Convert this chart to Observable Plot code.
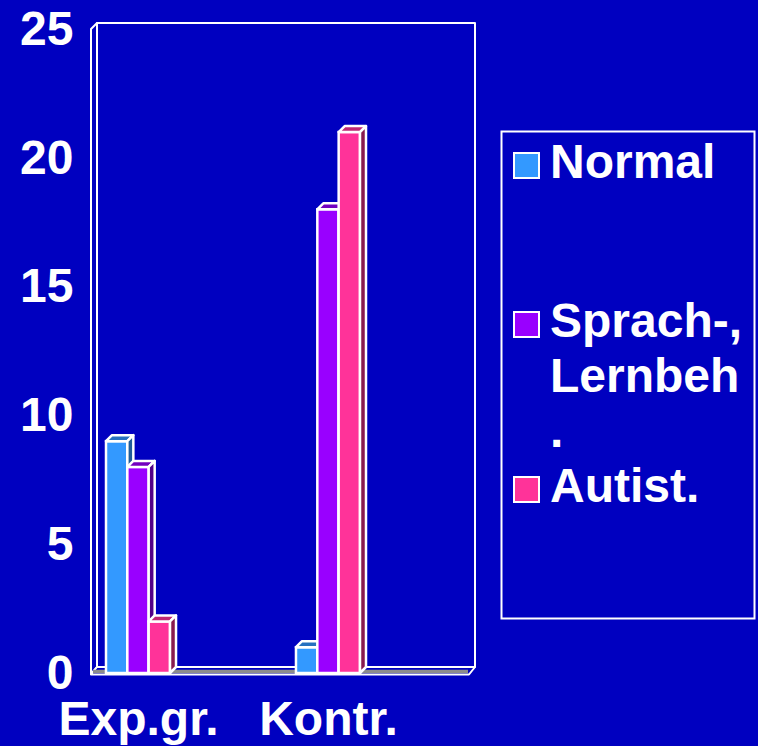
<!DOCTYPE html>
<html><head><meta charset="utf-8">
<script src="https://cdn.jsdelivr.net/npm/d3@7"></script>
<script src="https://cdn.jsdelivr.net/npm/@observablehq/plot@0.6"></script>
<style>
html,body{margin:0;padding:0;background:#0000C0;}
#chart{position:relative;width:758px;height:746px;overflow:hidden;}
#chart svg.legend{position:absolute;left:0;top:0;}
</style></head><body><div id="chart"></div>
<script>
// ---- data ----
const groups = ["Exp.gr.", "Kontr."];
const series = ["Normal", "Sprach-, Lernbeh.", "Autist."];
const legendLines = [["Normal"], ["Sprach-,", "Lernbeh", "."], ["Autist."]];
const normal = [9, 1];
const sprach = [8, 18];
const autist = [2, 21];
const yTicks = [0, 5, 10, 15, 20, 25];

// ---- styles ----
const colors = ["#3399FF", "#9900FF", "#FF3399"];
const topColors = ["#2670bf", "#7300bf", "#bf2673"];
const sideColors = ["#1f5c99", "#520088", "#881a4f"];
const bg = "#0000C0";
const font = "'Liberation Sans', Arial, Helvetica, sans-serif";
const W = 758, H = 746;
const DX = 6, DY = -6;           // 3D depth offset
const xRange = [106, 360];
const padInner = 0.663;
const bw = (xRange[1] - xRange[0]) / (groups.length - padInner) * (1 - padInner);
const sub = bw / series.length;
const SW = 2.5;

const values = [normal, sprach, autist];
const data = series.flatMap((s, si) => groups.map((g, gi) => ({group: g, series: s, si, value: values[si][gi]})));

function poly(g, pts, fill, stroke, sw) {
  g.append("polygon").attr("points", pts.map(p => p.join(",")).join(" "))
    .attr("fill", fill).attr("stroke", stroke).attr("stroke-width", sw).attr("stroke-linejoin", "round");
}

// walls and floor
function walls(index, scales, vals, dim) {
  const x0 = dim.marginLeft, x1 = dim.width - dim.marginRight;
  const y0 = dim.marginTop, y1 = dim.height - dim.marginBottom;
  const g = d3.create("svg:g");
  poly(g, [[x0 + DX, y0 + DY], [x1 + DX, y0 + DY], [x1 + DX, y1 + DY], [x0 + DX, y1 + DY]], bg, "white", 2);
  poly(g, [[x0, y0], [x0 + DX, y0 + DY], [x0 + DX, y1 + DY], [x0, y1 + 1]], bg, "white", 2);
  poly(g, [[x0, y1 + 1.5], [x0 + DX, y1 + DY], [x1 + DX, y1 + DY], [x1, y1 + 1.5]], bg, "white", 2);
  g.append("line").attr("x1", x0 + 2).attr("x2", x1 - 1).attr("y1", y1 - 1.5).attr("y2", y1 - 1.5)
    .attr("stroke", "#8c8c8c").attr("stroke-width", 3.5);
  return g.node();
}

function faces(si) {
  return (index, scales) => {
    const g = d3.create("svg:g");
    for (const d of data.filter(d => d.si === si)) {
      const xa = scales.x(d.group) + si * sub, xb = xa + sub;
      const yt = scales.y(d.value), yb = scales.y(0);
      poly(g, [[xa, yt], [xa + DX, yt + DY], [xb + DX, yt + DY], [xb, yt]], topColors[si], "white", SW);
      poly(g, [[xb, yt], [xb + DX, yt + DY], [xb + DX, yb + DY], [xb, yb]], sideColors[si], "white", SW);
    }
    return g.node();
  };
}

const barMarks = series.flatMap((s, si) => [
  Plot.barY(data.filter(d => d.si === si), {
    x: "group", y: "value", fill: colors[si], stroke: "white", strokeWidth: SW,
    insetLeft: si * sub, insetRight: (series.length - 1 - si) * sub
  }),
  faces(si)
]);

const plot = Plot.plot({
  width: W, height: H,
  marginLeft: 91, marginRight: 289, marginTop: 29, marginBottom: 73,
  x: {domain: groups, range: xRange, paddingInner: padInner, paddingOuter: 0, round: false, label: null},
  y: {domain: [0, 25], label: null},
  style: {background: bg, color: "white", fontFamily: font, fontWeight: "bold", fontSize: "48px", overflow: "visible"},
  marks: [
    walls,
    ...barMarks,
    Plot.axisY({ticks: yTicks, tickSize: 0, tickPadding: 18, fontSize: 48, fontWeight: "bold", fontFamily: font, color: "white"}),
    Plot.axisX({tickSize: 0, tickPadding: 27, fontSize: 48, fontWeight: "bold", fontFamily: font, color: "white"})
  ]
});
document.getElementById("chart").appendChild(plot);

// ---- legend ----
const itemBaselines = [178, 337, 502];
const lineStep = 55;
const leg = d3.select("#chart").append("svg").attr("class", "legend").attr("width", W).attr("height", H);
leg.append("rect").attr("x", 501.5).attr("y", 131.5).attr("width", 253).attr("height", 487)
  .attr("fill", "none").attr("stroke", "white").attr("stroke-width", 2);
series.forEach((s, i) => {
  const b = itemBaselines[i];
  leg.append("rect").attr("x", 514).attr("y", b - 25).attr("width", 25).attr("height", 25)
    .attr("fill", colors[i]).attr("stroke", "white").attr("stroke-width", 2);
  const t = leg.append("text").attr("x", 550).attr("y", b).attr("fill", "white")
    .attr("font-family", font).attr("font-weight", "bold").attr("font-size", 48);
  legendLines[i].forEach((ln, k) => t.append("tspan").attr("x", 550).attr("y", b + k * lineStep).text(ln));
});
</script></body></html>
